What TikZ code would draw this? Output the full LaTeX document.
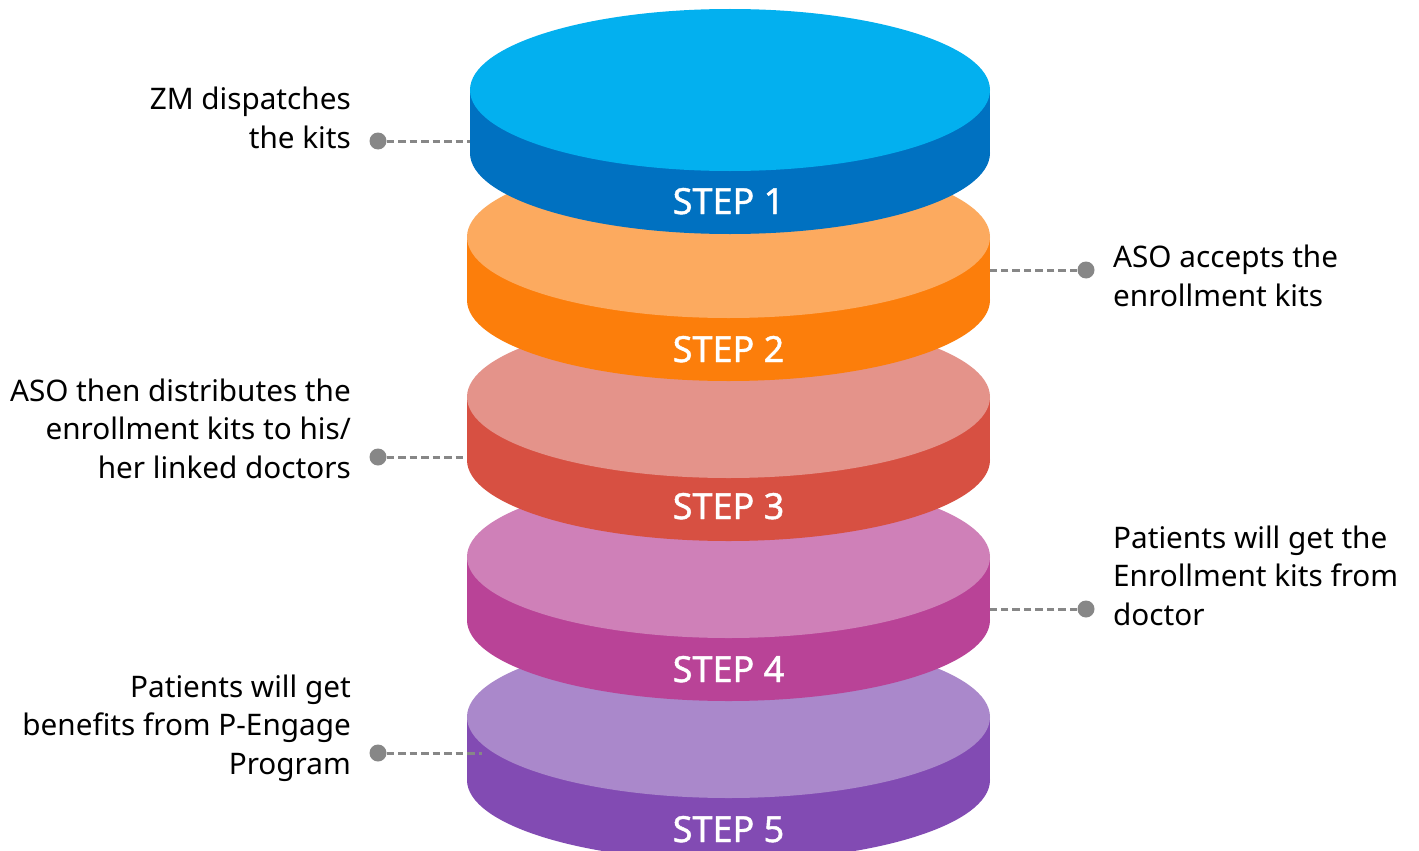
\documentclass[tikz,border=0pt]{standalone}
\usepackage{fontspec}
\setmainfont{Noto Sans}
\newfontfamily\stepfont[FakeBold=1.2]{Noto Sans}
\definecolor{cAtop}{HTML}{03B0EF}
\definecolor{cAside}{HTML}{0071C1}
\definecolor{cBtop}{HTML}{FCAA5F}
\definecolor{cBside}{HTML}{FC7E0B}
\definecolor{cCtop}{HTML}{E4938A}
\definecolor{cCside}{HTML}{D75042}
\definecolor{cDtop}{HTML}{CF80B8}
\definecolor{cDside}{HTML}{B94397}
\definecolor{cEtop}{HTML}{AA88CB}
\definecolor{cEside}{HTML}{824BB3}
\definecolor{dotgray}{HTML}{878787}
\newcommand\mydisk[5]{% cx, cy, rx, side colour, top colour
  \fill[#4] (#1-#3,#2) rectangle (#1+#3,#2+63);
  \fill[#4] (#1,#2+63) ellipse [x radius=#3, y radius=81];
  \fill[#5] (#1,#2) ellipse [x radius=#3, y radius=81];
}
\begin{document}
\begin{tikzpicture}[x=1pt,y=-1pt,
  lbl/.style={font=\fontsize{29.7}{38.5}\selectfont, text=black, inner sep=0pt},
  steplbl/.style={font=\stepfont\fontsize{36}{40}\selectfont, text=white, inner sep=0pt, anchor=base},
  dot/.style={circle, fill=dotgray, minimum size=17pt, inner sep=0pt},
  conn/.style={draw=dotgray, line width=3pt, dash pattern=on 7.5pt off 4pt}]
\useasboundingbox (0,0) rectangle (1419,851);
\clip (0,0) rectangle (1419,851);
\fill[white] (0,0) rectangle (1419,851);
% disks, bottom to top
\mydisk{728.5}{717}{261.5}{cEside}{cEtop}
\node[steplbl] (s5) at (728.5,842) {STEP 5};
\mydisk{728.5}{557}{261.5}{cDside}{cDtop}
\node[steplbl] (s4) at (728.5,682) {STEP 4};
\mydisk{728.5}{397}{261.5}{cCside}{cCtop}
\node[steplbl] (s3) at (728.5,519) {STEP 3};
\mydisk{728.5}{237}{261.5}{cBside}{cBtop}
\node[steplbl] (s2) at (728.5,362) {STEP 2};
\mydisk{730}{90}{260}{cAside}{cAtop}
\node[steplbl] (s1) at (728.5,214) {STEP 1};
% labels (base anchor = baseline of the last line)
\node[lbl, anchor=base east, align=right] (t1) at (351,148) {ZM dispatches\\the kits};
\node[lbl, anchor=base west, align=left] (t2) at (1113,306) {ASO accepts the\\enrollment kits};
\node[lbl, anchor=base east, align=right] (t3) at (351,478) {ASO then distributes the\\enrollment kits to his/\\her linked doctors};
\node[lbl, anchor=base west, align=left] (t4) at (1113,625) {Patients will get the\\Enrollment kits from\\doctor};
\node[lbl, anchor=base east, align=right] (t5) at (351,774) {Patients will get\\benefits from P-Engage\\Program};
% connectors
\node[dot] (d1) at (378,141) {};
\coordinate (e1) at (470,141);
\draw[conn] (d1) -- (e1);
\node[dot] (d2) at (1086,270) {};
\coordinate (e2) at (990,270);
\draw[conn] (d2) -- (e2);
\node[dot] (d3) at (378,457) {};
\coordinate (e3) at (467,457);
\draw[conn] (d3) -- (e3);
\node[dot] (d4) at (1086,609) {};
\coordinate (e4) at (990,609);
\draw[conn] (d4) -- (e4);
\node[dot] (d5) at (378,753) {};
\coordinate (e5) at (482,753);
\draw[conn] (d5) -- (e5);
\end{tikzpicture}
\end{document}
